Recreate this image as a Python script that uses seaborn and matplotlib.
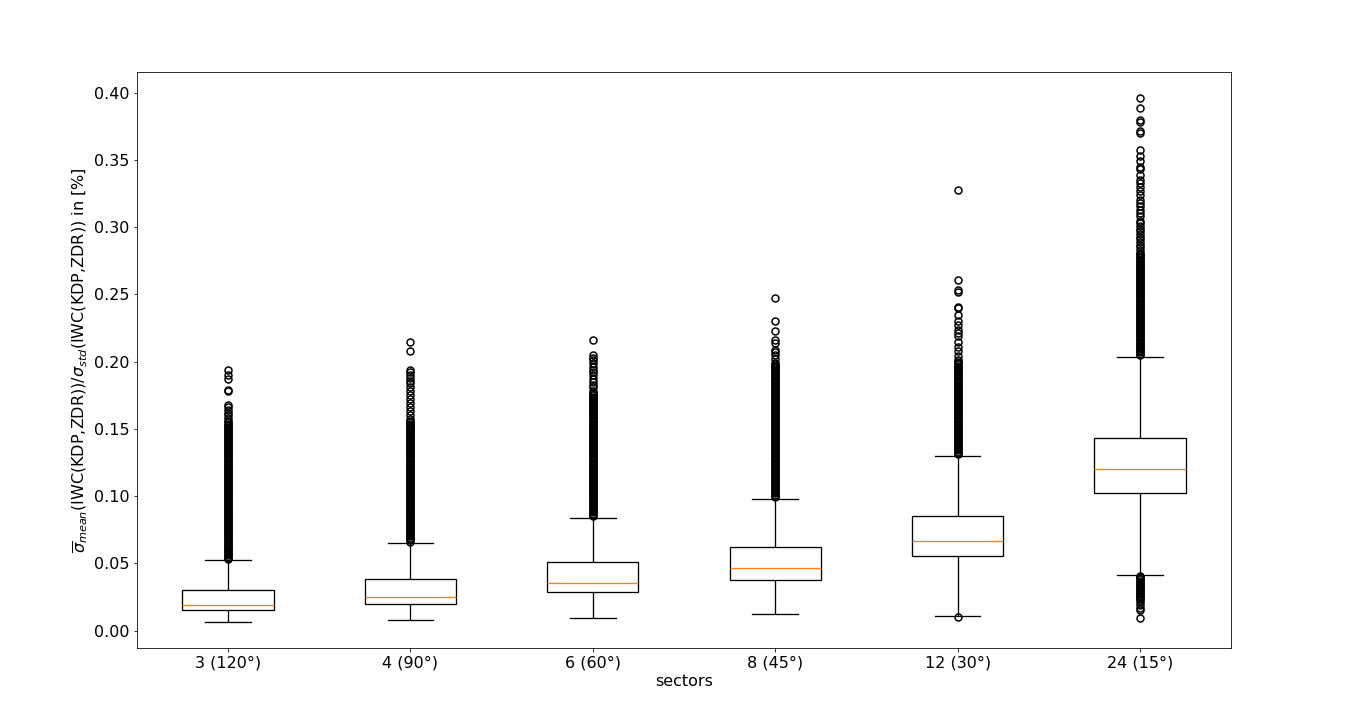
import matplotlib
matplotlib.use("Agg")
import matplotlib.pyplot as plt
import numpy as np
import pandas as pd
import seaborn as sns

SECTORS = ["3 (120°)", "4 (90°)", "6 (60°)", "8 (45°)", "12 (30°)", "24 (15°)"]

# five-number summary per sector
WHISLO = [0.0065, 0.0080, 0.0094, 0.0124, 0.0109, 0.0415]
Q1 = [0.0154, 0.0198, 0.0288, 0.0377, 0.0555, 0.1022]
MED = [0.0191, 0.0251, 0.0355, 0.0466, 0.0667, 0.1202]
Q3 = [0.0303, 0.0380, 0.0511, 0.0620, 0.0853, 0.1430]
WHISHI = [0.0526, 0.0650, 0.0838, 0.0979, 0.1299, 0.2035]

# outliers (the dense streaks are thousands of points in the original)
FLIERS_3 = [0.053, 0.054, 0.055, 0.056, 0.057, 0.058, 0.059, 0.060, 0.061, 0.062,
            0.063, 0.064, 0.065, 0.066, 0.067, 0.068, 0.069, 0.070, 0.071, 0.072,
            0.073, 0.074, 0.075, 0.076, 0.077, 0.078, 0.079, 0.080, 0.081, 0.082,
            0.083, 0.084, 0.085, 0.086, 0.087, 0.088, 0.089, 0.090, 0.091, 0.092,
            0.093, 0.094, 0.095, 0.096, 0.097, 0.098, 0.099, 0.100, 0.101, 0.102,
            0.103, 0.104, 0.105, 0.106, 0.107, 0.108, 0.109, 0.110, 0.111, 0.112,
            0.113, 0.114, 0.115, 0.116, 0.117, 0.118, 0.119, 0.120, 0.121, 0.122,
            0.123, 0.124, 0.125, 0.126, 0.127, 0.128, 0.129, 0.130, 0.131, 0.132,
            0.133, 0.134, 0.135, 0.136, 0.137, 0.138, 0.139, 0.140, 0.141, 0.142,
            0.143, 0.144, 0.145, 0.146, 0.147, 0.148, 0.149, 0.150, 0.151, 0.152,
            0.153, 0.154, 0.155, 0.156, 0.158, 0.160, 0.162, 0.164, 0.166, 0.168,
            0.178, 0.179, 0.187, 0.190, 0.194]
FLIERS_4 = [0.066, 0.067, 0.068, 0.069, 0.070, 0.071, 0.072, 0.073, 0.074, 0.075,
            0.076, 0.077, 0.078, 0.079, 0.080, 0.081, 0.082, 0.083, 0.084, 0.085,
            0.086, 0.087, 0.088, 0.089, 0.090, 0.091, 0.092, 0.093, 0.094, 0.095,
            0.096, 0.097, 0.098, 0.099, 0.100, 0.101, 0.102, 0.103, 0.104, 0.105,
            0.106, 0.107, 0.108, 0.109, 0.110, 0.111, 0.112, 0.113, 0.114, 0.115,
            0.116, 0.117, 0.118, 0.119, 0.120, 0.121, 0.122, 0.123, 0.124, 0.125,
            0.126, 0.127, 0.128, 0.129, 0.130, 0.131, 0.132, 0.133, 0.134, 0.135,
            0.136, 0.137, 0.138, 0.139, 0.140, 0.141, 0.142, 0.143, 0.144, 0.145,
            0.146, 0.147, 0.148, 0.149, 0.150, 0.151, 0.152, 0.153, 0.154, 0.155,
            0.156, 0.157, 0.160, 0.163, 0.166, 0.169, 0.172, 0.175, 0.178, 0.181,
            0.184, 0.186, 0.188, 0.190, 0.192, 0.194, 0.208, 0.215]
FLIERS_6 = [0.085, 0.086, 0.087, 0.088, 0.089, 0.090, 0.091, 0.092, 0.093, 0.094,
            0.095, 0.096, 0.097, 0.098, 0.099, 0.100, 0.101, 0.102, 0.103, 0.104,
            0.105, 0.106, 0.107, 0.108, 0.109, 0.110, 0.111, 0.112, 0.113, 0.114,
            0.115, 0.116, 0.117, 0.118, 0.119, 0.120, 0.121, 0.122, 0.123, 0.124,
            0.125, 0.126, 0.127, 0.128, 0.129, 0.130, 0.131, 0.132, 0.133, 0.134,
            0.135, 0.136, 0.137, 0.138, 0.139, 0.140, 0.141, 0.142, 0.143, 0.144,
            0.145, 0.146, 0.147, 0.148, 0.149, 0.150, 0.151, 0.152, 0.153, 0.154,
            0.155, 0.156, 0.157, 0.158, 0.159, 0.160, 0.161, 0.162, 0.163, 0.164,
            0.165, 0.166, 0.167, 0.168, 0.169, 0.170, 0.171, 0.172, 0.173, 0.174,
            0.175, 0.176, 0.177, 0.178, 0.181, 0.183, 0.185, 0.187, 0.190, 0.192,
            0.194, 0.196, 0.199, 0.201, 0.203, 0.205, 0.216]
FLIERS_8 = [0.099, 0.100, 0.101, 0.102, 0.103, 0.104, 0.105, 0.106, 0.107, 0.108,
            0.109, 0.110, 0.111, 0.112, 0.113, 0.114, 0.115, 0.116, 0.117, 0.118,
            0.119, 0.120, 0.121, 0.122, 0.123, 0.124, 0.125, 0.126, 0.127, 0.128,
            0.129, 0.130, 0.131, 0.132, 0.133, 0.134, 0.135, 0.136, 0.137, 0.138,
            0.139, 0.140, 0.141, 0.142, 0.143, 0.144, 0.145, 0.146, 0.147, 0.148,
            0.149, 0.150, 0.151, 0.152, 0.153, 0.154, 0.155, 0.156, 0.157, 0.158,
            0.159, 0.160, 0.161, 0.162, 0.163, 0.164, 0.165, 0.166, 0.167, 0.168,
            0.169, 0.170, 0.171, 0.172, 0.173, 0.174, 0.175, 0.176, 0.177, 0.178,
            0.179, 0.180, 0.181, 0.182, 0.183, 0.184, 0.185, 0.186, 0.187, 0.188,
            0.189, 0.190, 0.191, 0.192, 0.193, 0.194, 0.195, 0.196, 0.197, 0.198,
            0.199, 0.202, 0.205, 0.207, 0.209, 0.214, 0.216, 0.223, 0.230, 0.247]
FLIERS_12 = [0.0102,
             0.131, 0.132, 0.133, 0.134, 0.135, 0.136, 0.137, 0.138, 0.139, 0.140,
             0.141, 0.142, 0.143, 0.144, 0.145, 0.146, 0.147, 0.148, 0.149, 0.150,
             0.151, 0.152, 0.153, 0.154, 0.155, 0.156, 0.157, 0.158, 0.159, 0.160,
             0.161, 0.162, 0.163, 0.164, 0.165, 0.166, 0.167, 0.168, 0.169, 0.170,
             0.171, 0.172, 0.173, 0.174, 0.175, 0.176, 0.177, 0.178, 0.179, 0.180,
             0.181, 0.182, 0.183, 0.184, 0.185, 0.186, 0.187, 0.188, 0.189, 0.190,
             0.191, 0.192, 0.193, 0.194, 0.195, 0.196, 0.197, 0.198, 0.199, 0.200,
             0.2015, 0.204, 0.2077, 0.211, 0.215, 0.219, 0.2213, 0.2238, 0.2275, 0.230,
             0.235, 0.240, 0.241, 0.252, 0.253, 0.261, 0.328]
FLIERS_24 = [0.0094, 0.0155, 0.017, 0.019, 0.021, 0.023, 0.024, 0.025, 0.026, 0.027,
             0.028, 0.029, 0.030, 0.031, 0.032, 0.033, 0.034, 0.035, 0.036, 0.037,
             0.038, 0.039, 0.040, 0.0405,
             0.205, 0.206, 0.207, 0.208, 0.209, 0.210, 0.211, 0.212, 0.213, 0.214,
             0.215, 0.216, 0.217, 0.218, 0.219, 0.220, 0.221, 0.222, 0.223, 0.224,
             0.225, 0.226, 0.227, 0.228, 0.229, 0.230, 0.231, 0.232, 0.233, 0.234,
             0.235, 0.236, 0.237, 0.238, 0.239, 0.240, 0.241, 0.242, 0.243, 0.244,
             0.245, 0.246, 0.247, 0.248, 0.249, 0.250, 0.251, 0.252, 0.253, 0.254,
             0.255, 0.256, 0.257, 0.258, 0.259, 0.260, 0.261, 0.262, 0.263, 0.264,
             0.265, 0.266, 0.267, 0.268, 0.269, 0.270, 0.271, 0.272, 0.273, 0.274,
             0.275, 0.276, 0.277, 0.278, 0.279, 0.280, 0.281, 0.283, 0.285, 0.287,
             0.289, 0.291, 0.293, 0.295, 0.297, 0.299, 0.301, 0.303,
             0.3043, 0.308, 0.3105, 0.313, 0.3155, 0.318, 0.320, 0.324, 0.3266, 0.330,
             0.333, 0.3353, 0.339, 0.343, 0.345, 0.349, 0.3527, 0.3576, 0.370, 0.3713,
             0.378, 0.3795, 0.389, 0.396]
FLIERS = [FLIERS_3, FLIERS_4, FLIERS_6, FLIERS_8, FLIERS_12, FLIERS_24]

# long-form table whose quartiles / whiskers reproduce the summary above
M = 500
rows = []
for i, s in enumerate(SECTORS):
    vals = [WHISLO[i]] + [Q1[i]] * M + [MED[i]] * M + [Q3[i]] * M + [WHISHI[i]] + FLIERS[i]
    rows += [(s, v) for v in vals]
df = pd.DataFrame(rows, columns=["sector", "value"])

plt.rcParams["font.size"] = 16

fig, ax = plt.subplots(figsize=(19, 10), dpi=72)
fig.subplots_adjust(left=0.1, right=0.9, top=0.9, bottom=0.1)

sns.boxplot(
    data=df, x="sector", y="value", order=SECTORS,
    width=0.5, color="white", saturation=1,
    linecolor="black", linewidth=1.3,
    medianprops={"color": "#ff7f0e"},
    flierprops={"marker": "o", "markerfacecolor": "none",
                "markeredgecolor": "black", "markersize": 7,
                "markeredgewidth": 1.5},
    ax=ax,
)

ax.set_xlabel("sectors")
ax.set_ylabel(r"$\overline{\sigma}_{mean}$(IWC(KDP,ZDR))/$\sigma_{std}$(IWC(KDP,ZDR)) in [%]")

fig.savefig("out.png", dpi=72)
plt.close(fig)
